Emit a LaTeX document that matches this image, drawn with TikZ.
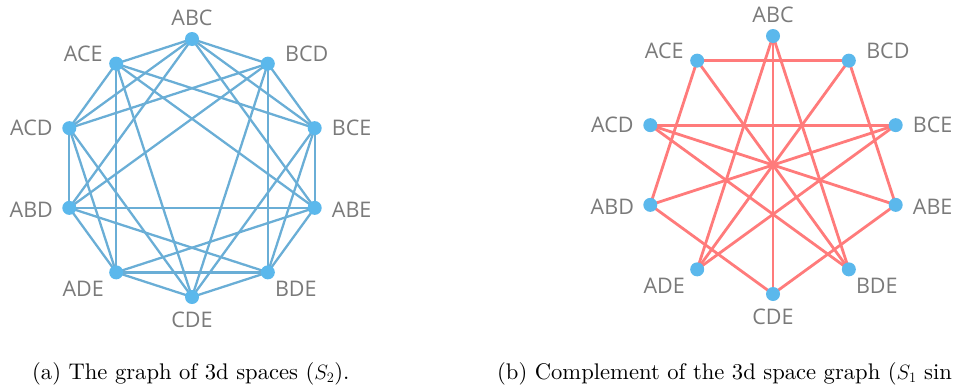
\documentclass[tikz,border=0pt]{standalone}
\usepackage{fontspec}
\newfontfamily\lblfont{Open Sans}
\newfontfamily\capfont{lmroman10-regular.otf}
\usetikzlibrary{calc}
\definecolor{nodeblue}{HTML}{5BB8EC}
\definecolor{edgeblue}{HTML}{6AAED6}
\definecolor{edgered}{HTML}{FF7B7B}
\definecolor{lblgray}{HTML}{7A7A7A}
\tikzset{
  vtx/.style={circle,fill=nodeblue,draw=none,minimum size=14pt,inner sep=0pt},
  lbl/.style={text=lblgray,font=\lblfont\fontsize{21.5}{21.5}\selectfont,inner sep=0pt},
  bedge/.style={draw=edgeblue,line width=2.3pt},
  redge/.style={draw=edgered,line width=2.8pt},
  capt/.style={font=\capfont\fontsize{22.6}{27}\selectfont,inner sep=0pt,anchor=base west}
}
\begin{document}
\begin{tikzpicture}[x=1pt,y=1pt]
\useasboundingbox (0,0) rectangle (955,-386);
\clip (0,0) rectangle (955,-386);
% ---------- vertex coordinates (two copies) ----------
\foreach \pre/\cx/\cy in {l/192/168, r/773/165}{
  \foreach \nm/\ang in {ABC/90,BCD/54,BCE/18,ABE/-18,BDE/-54,CDE/-90,ADE/-126,ABD/-162,ACD/162,ACE/126}{
    \coordinate (\pre\nm) at ($(\cx,-\cy)+(\ang:129)$);
  }
}
% ---------- left edges: J(5,3) ----------
\foreach \a/\b in {ABC/ABD,ABC/ABE,ABC/ACD,ABC/ACE,ABC/BCD,ABC/BCE,
  ABD/ABE,ABD/ACD,ABD/ADE,ABD/BCD,ABD/BDE,
  ABE/ACE,ABE/ADE,ABE/BCE,ABE/BDE,
  ACD/ACE,ACD/ADE,ACD/BCD,ACD/CDE,
  ACE/ADE,ACE/BCE,ACE/CDE,
  ADE/BDE,ADE/CDE,
  BCD/BCE,BCD/BDE,BCD/CDE,
  BCE/BDE,BCE/CDE,
  BDE/CDE}{
  \draw[bedge] (l\a) -- (l\b);
}
% ---------- right edges: complement ----------
\foreach \a/\b in {ABC/ADE,ABC/BDE,ABC/CDE,
  ABD/ACE,ABD/BCE,ABD/CDE,
  ABE/ACD,ABE/BCD,ABE/CDE,
  ACD/BCE,ACD/BDE,
  ACE/BCD,ACE/BDE,
  ADE/BCD,ADE/BCE}{
  \draw[redge] (r\a) -- (r\b);
}
% ---------- vertices and labels ----------
\foreach \pre in {l,r}{
  \foreach \nm/\dx/\dy in {ABC/0/21,BCD/39/10,BCE/37/0,ABE/37/-2,BDE/28/-16,
      CDE/0/-23,ADE/-33/-16,ABD/-38/-2,ACD/-38/0,ACE/-33/10}{
    \node[vtx] (\pre\nm v) at (\pre\nm) {};
    \node[lbl] (\pre\nm t) at ($(\pre\nm)+(\dx,\dy)$) {\nm};
  }
}
% ---------- captions ----------
\node[capt] (capa) at (32,-379) {(a) The graph of 3d spaces ($S_2$).};
\node[capt] (capb) at (497,-379) {(b) Complement of the 3d space graph ($S_1$ sin};
\end{tikzpicture}
\end{document}
